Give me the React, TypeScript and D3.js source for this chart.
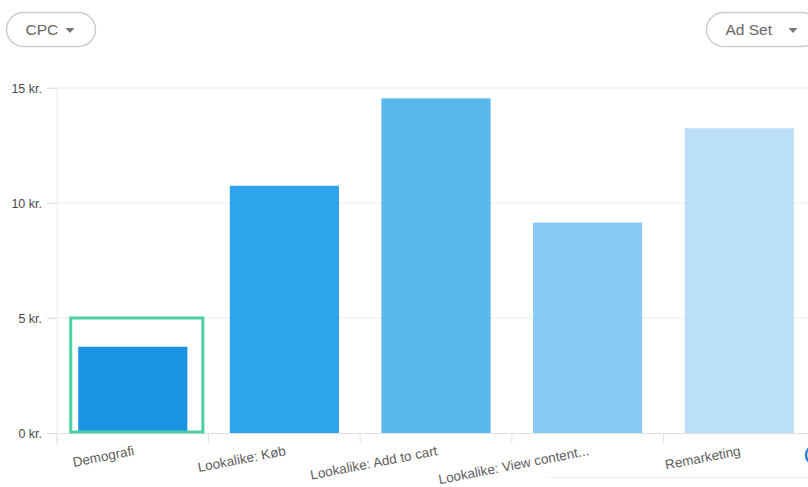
import React, { useEffect, useRef } from "react";
import * as d3 from "d3";

const categories = [
  "Demografi",
  "Lookalike: Køb",
  "Lookalike: Add to cart",
  "Lookalike: View content...",
  "Remarketing",
];
const cpcValues = [3.75, 10.75, 14.55, 9.15, 13.25];
const yTicks = [0, 5, 10, 15];
const highlightValue = 5;

const barColors = ["#1a93e4", "#2ea4ec", "#57b8ee", "#88caf3", "#badff7"];

const App = () => {
  const ref = useRef<SVGSVGElement>(null);

  useEffect(() => {
    const svg = d3.select(ref.current);
    svg.selectAll("*").remove();

    const width = 808;
    const font = "'Liberation Sans', Arial, sans-serif";

    const x = d3
      .scaleBand()
      .domain(categories)
      .range([57, 815])
      .paddingInner(0.28)
      .paddingOuter(0.14);

    const y = d3.scaleLinear().domain([0, 15]).range([433, 88]);

    // pill buttons
    const pill = (x0, w, label) => {
      const g = svg.append("g");
      g.append("rect")
        .attr("x", x0)
        .attr("y", 12.5)
        .attr("width", w)
        .attr("height", 34)
        .attr("rx", 17)
        .attr("fill", "#fff")
        .attr("stroke", "#c9ced3")
        .attr("stroke-width", 1.5);
      g.append("text")
        .attr("x", x0 + 19)
        .attr("y", 35)
        .attr("font-family", font)
        .attr("font-size", 15.5)
        .attr("fill", "#666")
        .text(label);
      const tx = x0 + w - 30;
      g.append("path")
        .attr("d", `M${tx},28 L${tx + 9},28 L${tx + 4.5},33 Z`)
        .attr("fill", "#777");
    };
    pill(6.5, 89, "CPC");
    pill(706.5, 112, "Ad Set");

    // gridlines
    svg
      .append("g")
      .selectAll("line")
      .data(yTicks.filter((d) => d > 0))
      .join("line")
      .attr("x1", 47)
      .attr("x2", width)
      .attr("y1", (d) => y(d))
      .attr("y2", (d) => y(d))
      .attr("stroke", "#ececec")
      .attr("stroke-width", 1);

    // y axis
    const yAxis = svg.append("g").attr("transform", "translate(57,0)");
    yAxis
      .call(
        d3
          .axisLeft(y)
          .tickValues(yTicks)
          .tickSize(10)
          .tickPadding(5)
          .tickFormat((d) => `${d} kr.`)
      )
      .call((g) => g.select(".domain").remove());
    yAxis.selectAll(".tick line").attr("stroke", "#e2e2e2");
    yAxis
      .selectAll(".tick text")
      .attr("font-family", font)
      .attr("font-size", 12.5)
      .attr("fill", "#4a4a4a");
    svg
      .append("line")
      .attr("x1", 57)
      .attr("x2", 57)
      .attr("y1", 88)
      .attr("y2", 445)
      .attr("stroke", "#ececec");

    // bars
    svg
      .append("g")
      .selectAll("rect")
      .data(cpcValues)
      .join("rect")
      .attr("x", (d, i) => x(categories[i]))
      .attr("y", (d) => y(d))
      .attr("width", x.bandwidth())
      .attr("height", (d) => y(0) - y(d))
      .attr("fill", (d, i) => barColors[i]);

    // x axis
    svg
      .append("line")
      .attr("x1", 47)
      .attr("x2", width)
      .attr("y1", 433.5)
      .attr("y2", 433.5)
      .attr("stroke", "#e2e2e2");
    svg
      .append("g")
      .selectAll("line")
      .data(d3.range(categories.length + 1))
      .join("line")
      .attr("x1", (i) => 57 + i * x.step())
      .attr("x2", (i) => 57 + i * x.step())
      .attr("y1", 433)
      .attr("y2", 443)
      .attr("stroke", "#e2e2e2");

    svg
      .append("g")
      .selectAll("text")
      .data(categories)
      .join("text")
      .attr(
        "transform",
        (d) => `translate(${x(d) + x.bandwidth() / 2 + 2},${455}) rotate(-11)`
      )
      .attr("text-anchor", "end")
      .attr("font-family", font)
      .attr("font-size", 13.5)
      .attr("fill", "#5e5e5e")
      .text((d) => d);

    // highlight box around first bar
    const b0 = x(categories[0]);
    svg
      .append("rect")
      .attr("x", b0 - 7.5)
      .attr("y", y(highlightValue))
      .attr("width", x.bandwidth() + 23)
      .attr("height", y(0) - y(highlightValue) - 1)
      .attr("fill", "none")
      .attr("stroke", "#4ccfa6")
      .attr("stroke-width", 3);

    // partial legend/footer remnants at the right edge
    svg
      .append("line")
      .attr("x1", 547)
      .attr("x2", width)
      .attr("y1", 477.5)
      .attr("y2", 477.5)
      .attr("stroke", "#eeeeee");
    svg
      .append("circle")
      .attr("cx", 815)
      .attr("cy", 455)
      .attr("r", 9)
      .attr("fill", "none")
      .attr("stroke", "#2a7fd4")
      .attr("stroke-width", 2.5);
  }, []);

  return (
    <svg
      ref={ref}
      width={808}
      height={487}
      style={{ position: "absolute", left: 0, top: 0, background: "#fff" }}
    ></svg>
  );
};

export default App;
